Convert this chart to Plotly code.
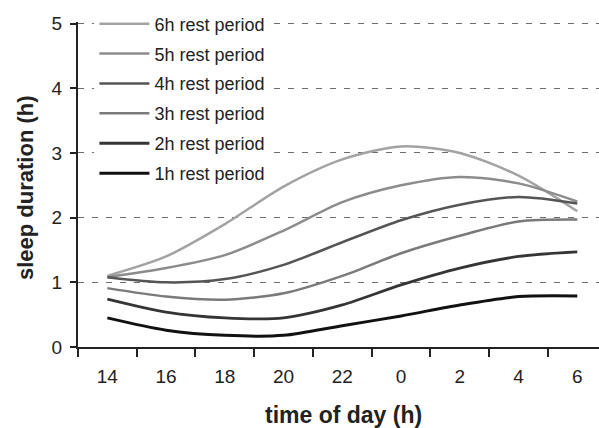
import plotly.graph_objects as go

hours = ["14", "16", "18", "20", "22", "0", "2", "4", "6"]
series_names = ["6h rest period", "5h rest period", "4h rest period",
                "3h rest period", "2h rest period", "1h rest period"]
rest_6h = [1.10, 1.40, 1.90, 2.48, 2.90, 3.10, 3.00, 2.65, 2.10]
rest_5h = [1.08, 1.22, 1.42, 1.80, 2.24, 2.50, 2.63, 2.53, 2.25]
rest_4h = [1.08, 1.00, 1.05, 1.27, 1.62, 1.96, 2.20, 2.32, 2.22]
rest_3h = [0.91, 0.78, 0.73, 0.83, 1.10, 1.45, 1.72, 1.94, 1.97]
rest_2h = [0.74, 0.54, 0.45, 0.45, 0.65, 0.96, 1.22, 1.40, 1.47]
rest_1h = [0.45, 0.26, 0.18, 0.18, 0.33, 0.48, 0.65, 0.78, 0.79]
values = [rest_6h, rest_5h, rest_4h, rest_3h, rest_2h, rest_1h]

colors = ["#a3a3a3", "#8c8c8c", "#555555", "#7a7a7a", "#353535", "#111111"]
widths = [2.5, 2.5, 2.5, 2.5, 2.8, 3.0]

xidx = list(range(len(hours)))

fig = go.Figure()
for name, vals, c, w in zip(series_names, values, colors, widths):
    fig.add_trace(go.Scatter(
        x=xidx, y=vals, name=name, mode="lines", legendgroup=name,
        line=dict(color=c, width=w, shape="spline", smoothing=0.8),
    ))

font_family = "Liberation Sans, Arial, sans-serif"
T, B, L = 22, 81, 78
ph = 428 - T - B
pw = 599 - L

fig.update_layout(
    width=599, height=428,
    margin=dict(l=L, r=0, t=T, b=B, autoexpand=False),
    plot_bgcolor="white", paper_bgcolor="white",
    font=dict(family=font_family, color="#222222"),
    showlegend=True,
    legend=dict(
        x=0.0315, y=1.051, xanchor="left", yanchor="top",
        bgcolor="white", borderwidth=0,
        font=dict(size=18, family=font_family, color="#222222"),
        tracegroupgap=3.5, itemwidth=50,
    ),
    xaxis=dict(
        range=[-0.5, 8.37],
        tickmode="array", tickvals=xidx, ticktext=hours,
        ticks="outside", ticklen=8, tickcolor="rgba(0,0,0,0)",
        ticklabelstandoff=3,
        tickfont=dict(size=19, family=font_family, color="#222222"),
        showline=True, linecolor="#222222", linewidth=2,
        showgrid=False, zeroline=False,
        minor=dict(tickmode="array",
                   tickvals=[i - 0.5 for i in range(len(hours) + 1)],
                   ticks="outside", ticklen=8, tickwidth=2,
                   tickcolor="#222222", showgrid=False),
    ),
    yaxis=dict(
        range=[0, 5.025], tickmode="array", tickvals=[0, 1, 2, 3, 4, 5],
        ticks="outside", ticklen=6, tickwidth=2, tickcolor="#222222",
        ticklabelstandoff=4,
        tickfont=dict(size=19, family=font_family, color="#222222"),
        showline=True, linecolor="#222222", linewidth=2,
        showgrid=True, gridcolor="#6e6e6e", gridwidth=1.2, griddash="6px,8px",
        zeroline=False,
    ),
    annotations=[
        dict(text="<b>time of day (h)</b>", xref="paper", yref="paper",
             x=(343 - L) / pw, y=-(415 - (T + ph)) / ph, xanchor="center", yanchor="middle",
             showarrow=False, font=dict(size=23, family=font_family, color="#222222")),
        dict(text="<b>sleep duration (h)</b>", xref="paper", yref="paper",
             x=-(L - 25) / pw, y=(T + ph - 188) / ph, xanchor="center", yanchor="middle",
             textangle=-90, showarrow=False,
             font=dict(size=22, family=font_family, color="#222222")),
    ],
)

fig.write_html("out.html", config={"displayModeBar": False},
               post_script="document.body.style.margin='0';document.body.style.overflow='hidden';")
